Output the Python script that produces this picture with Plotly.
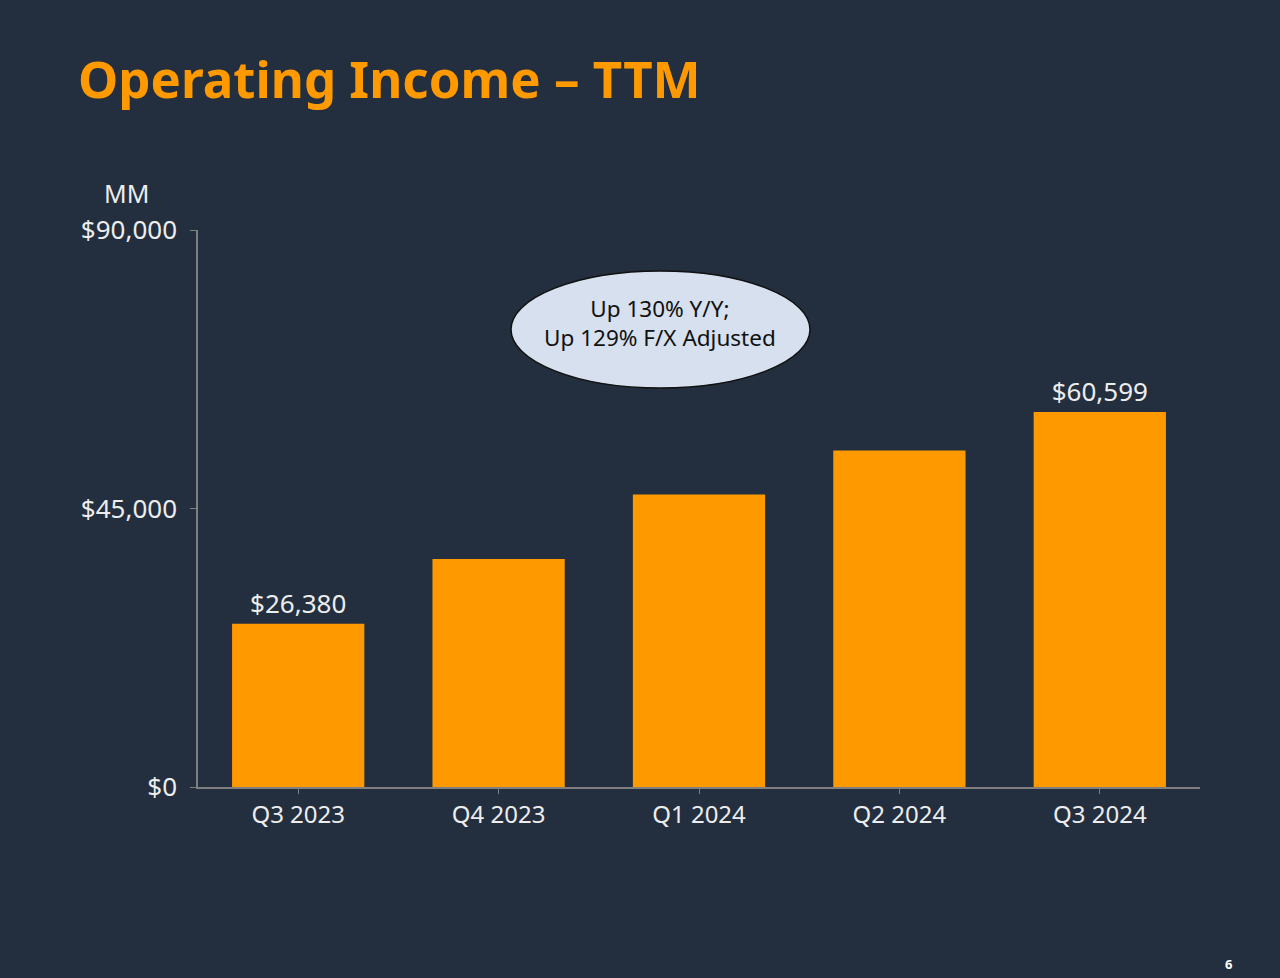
import plotly.graph_objects as go

categories = ["Q3 2023", "Q4 2023", "Q1 2024", "Q2 2024", "Q3 2024"]
values = [26380, 36852, 47263, 54376, 60599]
labeled = [True, False, False, False, True]
y_ticks = [0, 45000, 90000]

BG = "#232F3E"
ORANGE = "#FF9900"
TXT = "#EDEDED"
FONT = "Noto Sans"

W, H = 1280, 978
x0, x1 = 198, 1200
yb, yt = 787, 230

labels = [f"${v:,}" if show else "" for v, show in zip(values, labeled)]
y_ticktext = [f"${v:,}" for v in y_ticks]

fig = go.Figure(go.Bar(
    x=categories, y=values, text=labels, textposition="outside",
    textfont=dict(color=TXT, size=26, family=FONT),
    marker=dict(color=ORANGE, line=dict(width=0)),
    width=0.66, cliponaxis=False, hoverinfo="skip",
))

fig.update_layout(
    width=W, height=H, autosize=False,
    paper_bgcolor=BG, plot_bgcolor=BG,
    margin=dict(l=0, r=0, t=0, b=0, pad=0),
    showlegend=False,
    font=dict(family=FONT, color=TXT),
    xaxis=dict(
        domain=[x0 / W, x1 / W], range=[-0.5, 4.5], automargin=False,
        showline=True, linecolor="#7F7F7F", linewidth=1.5,
        ticks="outside", ticklen=5, tickcolor="#7F7F7F",
        tickfont=dict(size=24, color=TXT, family=FONT),
        ticklabelstandoff=0,
        showgrid=False, zeroline=False, fixedrange=True,
    ),
    yaxis=dict(
        domain=[1 - yb / H, 1 - yt / H], range=[0, 90000], automargin=False,
        tickvals=y_ticks, ticktext=y_ticktext,
        showline=True, linecolor="#7F7F7F", linewidth=1.5,
        ticks="outside", ticklen=6, tickcolor="#7F7F7F",
        tickfont=dict(size=26, color=TXT, family=FONT),
        ticklabelstandoff=8,
        showgrid=False, zeroline=False, fixedrange=True,
    ),
    bargap=0.34,
)

# Title
fig.add_annotation(
    text="<b>Operating Income – TTM</b>", xref="paper", yref="paper",
    x=76 / W, y=1 - 78 / H, xanchor="left", yanchor="middle", showarrow=False,
    font=dict(size=51, color=ORANGE, family=FONT),
)
# Unit label
fig.add_annotation(
    text="MM", xref="paper", yref="paper",
    x=126 / W, y=1 - 193 / H, xanchor="center", yanchor="middle", showarrow=False,
    font=dict(size=25, color=TXT, family=FONT),
)
# Callout ellipse
fig.add_shape(
    type="circle", xref="paper", yref="paper",
    x0=511 / W, x1=810 / W, y0=1 - 388 / H, y1=1 - 271 / H,
    fillcolor="#D6E0EE", line=dict(color="#111111", width=1.5),
)
fig.add_annotation(
    text="Up 130% Y/Y;<br>Up 129% F/X Adjusted", xref="paper", yref="paper",
    x=660 / W, y=1 - 323 / H, xanchor="center", yanchor="middle", showarrow=False,
    font=dict(size=22.5, color="#111111", family=FONT),
)
# Page number
fig.add_annotation(
    text="<b>6</b>", xref="paper", yref="paper",
    x=1228 / W, y=1 - 964 / H, xanchor="center", yanchor="middle", showarrow=False,
    font=dict(size=13, color="#FFFFFF", family=FONT),
)

fig.write_html(
    "out.html",
    config={"displayModeBar": False},
    post_script="document.body.style.margin='0';document.body.style.background='#232F3E';",
)
